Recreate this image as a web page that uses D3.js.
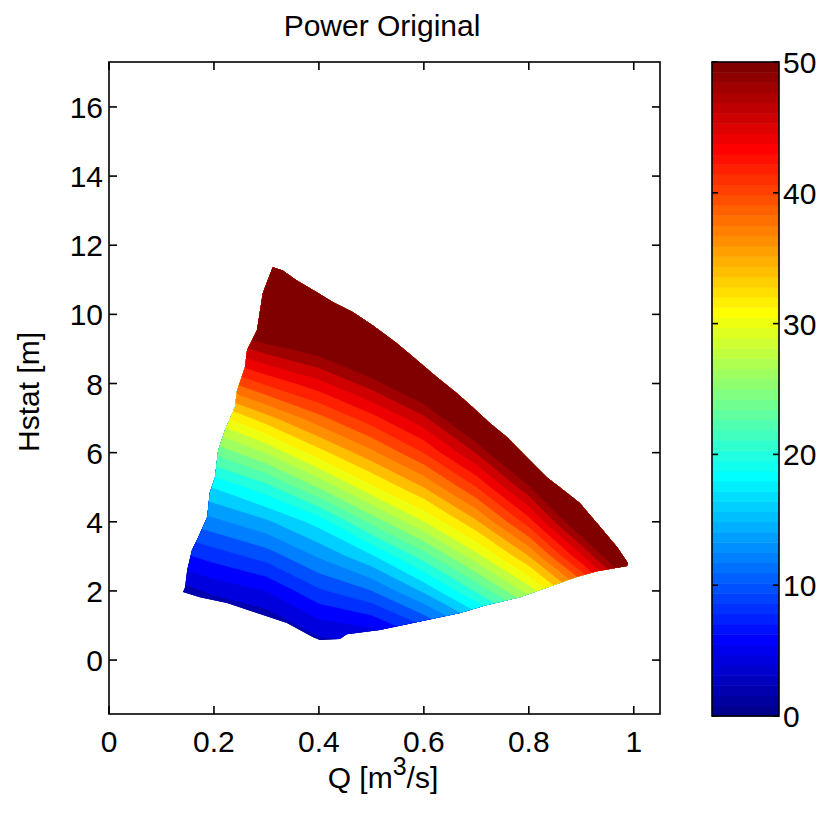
<!DOCTYPE html>
<html><head><meta charset="utf-8">
<script src="https://cdn.jsdelivr.net/npm/d3@7"></script>
<style>
body{margin:0;background:#fff}
text{font-family:"Liberation Sans",Arial,Helvetica,sans-serif;fill:#000}
</style>
</head><body>
<svg id="chart" width="821" height="815"></svg>
<script>
// ---- data ----
const qGrid = [0.1, 0.2, 0.3, 0.4, 0.5, 0.6, 0.7, 0.8, 0.9, 1.0];
const hGrid = [0, 1, 2, 3, 4, 5, 6, 7, 8, 9, 10, 11, 12];
// power values, one row per Hstat value in hGrid, one column per Q value in qGrid
const powerRows = [
  [-7.2, -3.6, -2.0,  1.5,  1.8,  4.5,  7.7, 13.8,  21.1,  28.8],
  [-2.6,  0.5,  2.1,  5.2,  6.3, 10.0, 15.1, 21.6,  28.9,  40.0],
  [ 2.1,  4.5,  6.0,  9.6, 11.9, 16.3, 22.2, 28.8,  37.3,  48.3],
  [ 6.7,  8.8, 10.8, 14.2, 17.6, 22.9, 29.2, 35.9,  45.5,  56.3],
  [11.3, 13.4, 15.6, 18.8, 24.5, 29.9, 35.6, 43.0,  53.1,  64.3],
  [16.0, 18.1, 21.2, 26.1, 31.5, 36.0, 41.9, 49.6,  61.1,  72.3],
  [21.3, 24.3, 28.1, 33.1, 37.4, 42.0, 48.1, 56.6,  69.1,  80.3],
  [27.5, 30.9, 35.2, 39.3, 43.2, 47.5, 54.4, 63.6,  77.1,  88.3],
  [34.4, 38.5, 42.3, 45.3, 49.0, 53.5, 60.6, 70.6,  85.1,  96.3],
  [42.2, 45.8, 48.9, 51.2, 54.8, 59.4, 66.9, 77.6,  93.1, 104.3],
  [49.8, 53.2, 56.1, 57.4, 60.6, 65.4, 73.1, 84.6, 101.1, 112.3],
  [57.7, 60.8, 63.2, 63.6, 66.4, 71.3, 79.4, 91.6, 109.1, 120.3],
  [65.5, 68.3, 70.4, 69.8, 72.2, 77.3, 85.6, 98.6, 117.1, 128.3]
];
// outline of the operating region (Q, Hstat)
const boundaryQ = [0.312,0.331,0.358,0.396,0.427,0.465,0.503,0.549,0.587,0.625,0.663,0.693,0.726,0.758,0.796,0.834,0.859,0.897,0.930,0.968,0.989,
  0.987,0.930,0.891,0.783,0.745,0.720,0.669,0.579,0.516,0.453,0.440,0.402,0.389,0.339,0.282,0.225,0.173,0.141,
  0.145,0.149,0.158,0.170,0.187,0.192,0.202,0.208,0.221,0.240,0.244,0.259,0.263,0.282,0.293];
const boundaryH = [11.36,11.27,10.98,10.64,10.35,10.06,9.68,9.16,8.67,8.18,7.72,7.31,6.85,6.45,5.87,5.29,5.00,4.54,3.96,3.27,2.80,
  2.72,2.57,2.40,1.82,1.68,1.59,1.36,1.07,0.87,0.75,0.61,0.58,0.66,1.07,1.36,1.65,1.82,1.97,
  2.11,2.60,3.18,3.55,4.13,4.83,5.29,6.07,6.65,7.31,7.80,8.47,8.96,9.54,10.61];
const contourLevels = [0,2,4,6,8,10,12,14,16,18,20,22,24,26,28,30,32,34,36,38,40,42,44,46,48,50];
const colorLimits = [0, 50];
const xTicks = [0, 0.2, 0.4, 0.6, 0.8, 1];
const xTickLabels = ["0", "0.2", "0.4", "0.6", "0.8", "1"];
const yTicks = [0, 2, 4, 6, 8, 10, 12, 14, 16];
const yTickLabels = ["0", "2", "4", "6", "8", "10", "12", "14", "16"];
const cbTicks = [0, 10, 20, 30, 40, 50];
const cbTickLabels = ["0", "10", "20", "30", "40", "50"];
const titleText = "Power Original";

// ---- MATLAB-style jet(64) colormap ----
function jetColormap(m) {
  const n = Math.ceil(m / 4);
  const u = [];
  for (let i = 1; i <= n; i++) u.push(i / n);
  for (let i = 0; i < n - 1; i++) u.push(1);
  for (let i = n; i >= 1; i--) u.push(i / n);
  const off = Math.ceil(n / 2) - (m % 4 === 1 ? 1 : 0);
  const L = u.length;
  const J = Array.from({length: m}, () => [0, 0, 0]);
  const g = d3.range(1, L + 1).map(i => off + i);
  const r = g.map(v => v + n).filter(v => v <= m);
  const gg = g.filter(v => v <= m);
  const b = g.map(v => v - n).filter(v => v >= 1);
  r.forEach((row, i) => J[row - 1][0] = u[i]);
  gg.forEach((row, i) => J[row - 1][1] = u[i]);
  b.forEach((row, i) => J[row - 1][2] = u[L - b.length + i]);
  return J.map(c => d3.rgb(Math.round(c[0] * 255), Math.round(c[1] * 255), Math.round(c[2] * 255)).formatHex());
}
const cmap = jetColormap(64);
const colorOf = v => {
  let k = Math.floor((v - colorLimits[0]) / (colorLimits[1] - colorLimits[0]) * cmap.length);
  k = Math.max(0, Math.min(cmap.length - 1, k));
  return cmap[k];
};

// ---- layout ----
const svg = d3.select("#chart");
const plot = {left: 109, right: 660, top: 62, bottom: 714};
const x = d3.scaleLinear().domain([0, 1.05]).range([plot.left, plot.right]);
const y = d3.scaleLinear().domain([-1.56, 17.3]).range([plot.bottom, plot.top]);
const cb = {left: 712, right: 779, top: 62, bottom: 716};
const cy = d3.scaleLinear().domain(colorLimits).range([cb.bottom, cb.top]);

svg.append("rect").attr("x", 0).attr("y", 0).attr("width", 821).attr("height", 815).attr("fill", "#fff");
svg.append("rect").attr("x", plot.left).attr("y", plot.top)
  .attr("width", plot.right - plot.left).attr("height", plot.bottom - plot.top).attr("fill", "#fff");

// clip region
const boundary = boundaryQ.map((q, i) => [q, boundaryH[i]]);
svg.append("clipPath").attr("id", "region").append("path")
  .attr("d", d3.line().x(d => x(d[0])).y(d => y(d[1]))(boundary) + "Z");

// filled contours
const nx = qGrid.length, ny = hGrid.length;
const values = powerRows.flat();
const contours = d3.contours().size([nx, ny]).thresholds(contourLevels)(values);
const dq = qGrid[1] - qGrid[0], dh = hGrid[1] - hGrid[0];
const proj = d3.geoTransform({
  point(px, py) { this.stream.point(x(qGrid[0] + (px - 0.5) * dq), y(hGrid[0] + (py - 0.5) * dh)); }
});
const path = d3.geoPath(proj);
svg.append("g").attr("clip-path", "url(#region)")
  .selectAll("path").data(contours).join("path")
  .attr("d", path)
  .attr("fill", d => colorOf(d.value))
  .attr("stroke", d => colorOf(d.value))
  .attr("stroke-width", 0.6);

// axes box with inward ticks
const axisG = svg.append("g").attr("stroke", "#000").attr("stroke-width", 1.6).attr("fill", "none");
axisG.append("rect").attr("x", plot.left).attr("y", plot.top)
  .attr("width", plot.right - plot.left).attr("height", plot.bottom - plot.top);
const tl = 8;
xTicks.forEach(t => {
  axisG.append("line").attr("x1", x(t)).attr("x2", x(t)).attr("y1", plot.bottom).attr("y2", plot.bottom - tl);
  axisG.append("line").attr("x1", x(t)).attr("x2", x(t)).attr("y1", plot.top).attr("y2", plot.top + tl);
});
yTicks.forEach(t => {
  axisG.append("line").attr("x1", plot.left).attr("x2", plot.left + tl).attr("y1", y(t)).attr("y2", y(t));
  axisG.append("line").attr("x1", plot.right).attr("x2", plot.right - tl).attr("y1", y(t)).attr("y2", y(t));
});

const fs = 30;
svg.append("g").selectAll("text").data(xTicks).join("text")
  .attr("x", d => x(d)).attr("y", 752).attr("text-anchor", "middle")
  .attr("font-size", fs).text((d, i) => xTickLabels[i]);
svg.append("g").selectAll("text").data(yTicks).join("text")
  .attr("x", 103).attr("y", d => y(d) + 11).attr("text-anchor", "end")
  .attr("font-size", fs).text((d, i) => yTickLabels[i]);

// title and axis labels
svg.append("text").attr("x", 382).attr("y", 36).attr("text-anchor", "middle")
  .attr("font-size", fs).text(titleText);
const xl = svg.append("text").attr("x", 383).attr("y", 788).attr("text-anchor", "middle").attr("font-size", fs);
xl.append("tspan").text("Q [m");
xl.append("tspan").attr("dy", -13).attr("font-size", 25).text("3");
xl.append("tspan").attr("dy", 13).text("/s]");
svg.append("text").attr("transform", "translate(39,392) rotate(-90)").attr("text-anchor", "middle")
  .attr("font-size", fs).text("Hstat [m]");

// colorbar
const cbG = svg.append("g");
cbG.selectAll("rect").data(cmap).join("rect")
  .attr("x", cb.left)
  .attr("y", (d, i) => cy((i + 1) * (colorLimits[1] - colorLimits[0]) / cmap.length + colorLimits[0]))
  .attr("width", cb.right - cb.left)
  .attr("height", (d, i) => cy(i * 50 / cmap.length) - cy((i + 1) * 50 / cmap.length) + 0.5)
  .attr("fill", d => d);
const cbAxis = svg.append("g").attr("stroke", "#000").attr("stroke-width", 1.6).attr("fill", "none");
cbAxis.append("rect").attr("x", cb.left).attr("y", cb.top).attr("width", cb.right - cb.left).attr("height", cb.bottom - cb.top);
cbTicks.forEach(t => {
  cbAxis.append("line").attr("x1", cb.left).attr("x2", cb.left + 6).attr("y1", cy(t)).attr("y2", cy(t));
  cbAxis.append("line").attr("x1", cb.right).attr("x2", cb.right - 6).attr("y1", cy(t)).attr("y2", cy(t));
});
svg.append("g").selectAll("text").data(cbTicks).join("text")
  .attr("x", 783).attr("y", d => cy(d) + 11).attr("text-anchor", "start")
  .attr("font-size", fs).text((d, i) => cbTickLabels[i]);
</script>
</body></html>
